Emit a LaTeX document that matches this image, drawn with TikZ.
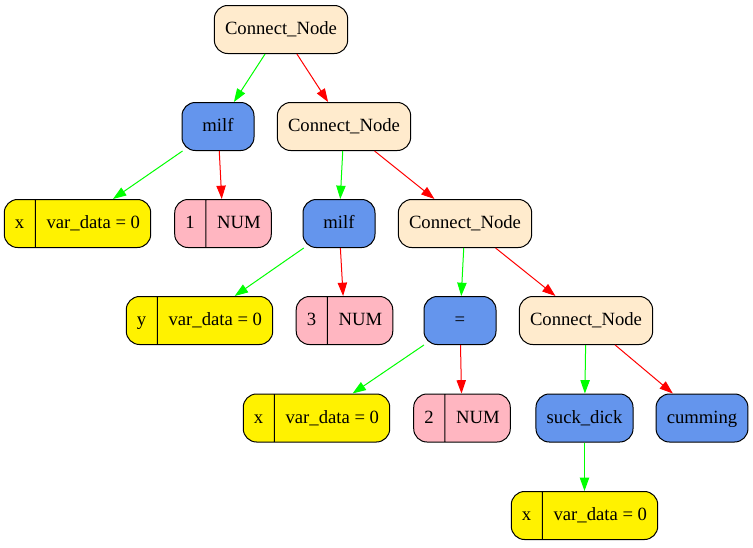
\documentclass[tikz,border=0pt]{standalone}
\usepackage{fontspec}
\setmainfont{Liberation Serif}
\usetikzlibrary{arrows.meta,shapes.multipart}
\definecolor{almond}{HTML}{FFEBCD}
\definecolor{cornflower}{HTML}{6495ED}
\definecolor{lpink}{HTML}{FFB6C1}
\definecolor{lgreen}{HTML}{00FF00}
\begin{document}
\begin{tikzpicture}[>={Triangle[length=10pt,width=7pt]},x=0.75pt,y=-0.75pt,
	font=\fontsize{14pt}{16pt}\selectfont,
	box/.style={draw,line width=0.75pt,rounded corners=10pt,minimum width=54pt,minimum height=36pt,inner xsep=8pt,text height=11pt,text depth=3pt},
	conn/.style={box,fill=almond},
	oper/.style={box,fill=cornflower},
	rec/.style={draw,line width=0.75pt,rounded corners=10pt,rectangle split,rectangle split horizontal,rectangle split parts=2,rectangle split part align=base,minimum height=36pt,inner xsep=8pt,text height=11pt,text depth=3pt},
	var/.style={rec,fill=yellow},
	num/.style={rec,fill=lpink},
	gedge/.style={->,draw=lgreen,line width=0.75pt},
	redge/.style={->,draw=red,line width=0.75pt}]
	\useasboundingbox (0,0) rectangle (753,547);
	% ca cay, toa do theo pixel
	\node[conn] (root) at (281,29.5) {Connect\_Node};
	\node[oper] (milfA) at (218,126.5) {milf};
	\node[conn] (connB) at (344,126.5) {Connect\_Node};
	\node[var] (varA) at (77.5,223.5) {x\nodepart{two}var\_data = 0};
	\node[num] (numA) at (223,223.5) {1\nodepart{two}NUM};
	\node[oper] (milfB) at (339,223.5) {milf};
	\node[conn] (connC) at (465,223.5) {Connect\_Node};
	\node[var] (varB) at (199.5,320.5) {y\nodepart{two}var\_data = 0};
	\node[num] (numB) at (344.5,320.5) {3\nodepart{two}NUM};
	\node[oper] (eq) at (460,320.5) {=};
	\node[conn] (connD) at (586,320.5) {Connect\_Node};
	\node[var] (varC) at (316.5,418) {x\nodepart{two}var\_data = 0};
	\node[num] (numC) at (462,418) {2\nodepart{two}NUM};
	\node[oper] (suck) at (584.5,418) {suck\_dick};
	\node[oper] (cum) at (702,418) {cumming};
	\node[var] (varD) at (584.5,515.5) {x\nodepart{two}var\_data = 0};
	\draw[gedge] (root) -- (milfA);
	\draw[redge] (root) -- (connB);
	\draw[gedge] (milfA) -- (varA);
	\draw[redge] (milfA) -- (numA);
	\draw[gedge] (connB) -- (milfB);
	\draw[redge] (connB) -- (connC);
	\draw[gedge] (milfB) -- (varB);
	\draw[redge] (milfB) -- (numB);
	\draw[gedge] (connC) -- (eq);
	\draw[redge] (connC) -- (connD);
	\draw[gedge] (eq) -- (varC);
	\draw[redge] (eq) -- (numC);
	\draw[gedge] (connD) -- (suck);
	\draw[redge] (connD) -- (cum);
	\draw[gedge] (suck) -- (varD);
\end{tikzpicture}
\end{document}
